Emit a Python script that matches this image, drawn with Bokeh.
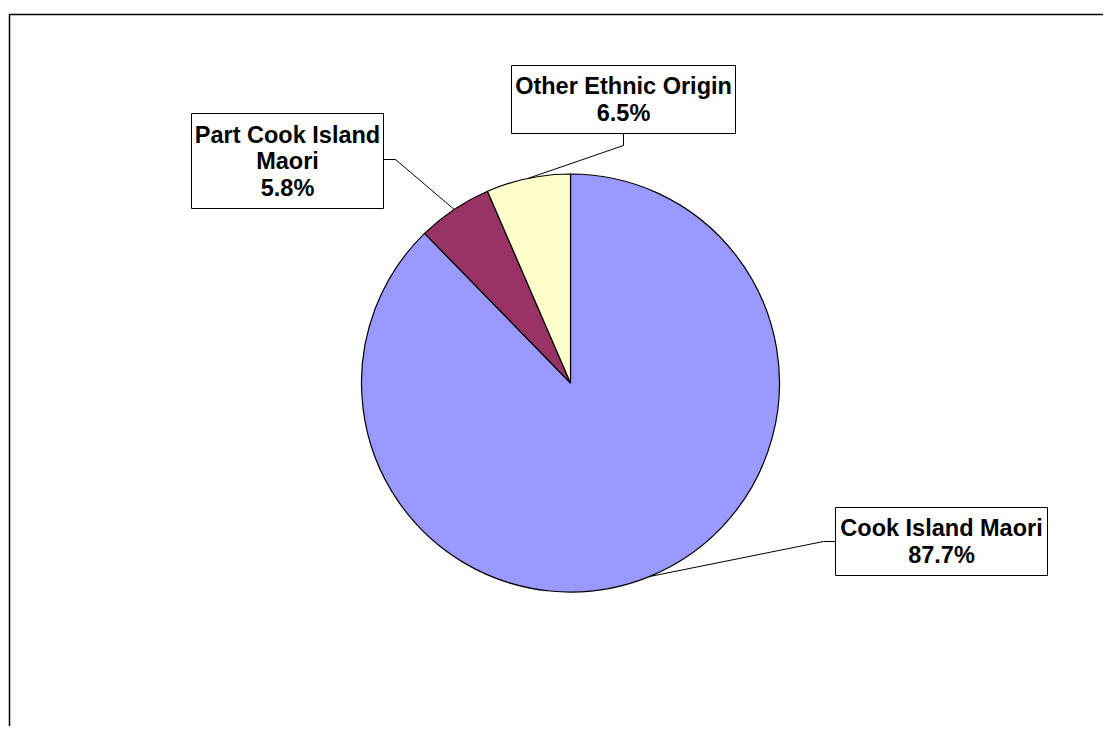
import numpy as np
from bokeh.plotting import figure
from bokeh.models import Range1d, ColumnDataSource
from bokeh.core.properties import value
from bokeh.embed import file_html
from bokeh.resources import INLINE

# ---- data ----
categories = ["Cook Island Maori", "Part Cook Island Maori", "Other Ethnic Origin"]
label_lines = [["Cook Island Maori"], ["Part Cook Island", "Maori"], ["Other Ethnic Origin"]]
percent = [87.7, 5.8, 6.5]
colors = ["#9999FF", "#993366", "#FFFFCC"]

W, H = 1103, 726
def Y(py):
    return H - py

p = figure(width=W, height=H, output_backend="svg", toolbar_location=None,
           x_range=Range1d(0, W), y_range=Range1d(0, H),
           min_border=0, outline_line_color=None)
p.axis.visible = False
p.grid.visible = False
p.background_fill_color = "white"
p.border_fill_color = "white"

# chart area border (extends past the window on right/bottom)
p.quad(left=[9], right=[1300], top=[Y(14)], bottom=[Y(900)], fill_color=None,
       line_color="#000000", line_width=1.5)

# pie
cx, cy, R = 570, Y(382.5), 209
vals = np.array(percent, dtype=float)
frac = vals / vals.sum()
cum = np.concatenate([[0], np.cumsum(frac)])
start = np.pi / 2 - cum[:-1] * 2 * np.pi
end = np.pi / 2 - cum[1:] * 2 * np.pi
mid = (start + end) / 2
src = ColumnDataSource(dict(start=start, end=end, color=colors, cat=categories))
p.wedge(x=cx, y=cy, radius=R, start_angle="start", end_angle="end", direction="clock",
        fill_color="color", line_color="black", line_width=1.2, source=src)

# label boxes (layout) : left, right, top, bottom in page px, elbow points
boxes = [
    dict(l=835, r=1047, t=507, b=575, elbow=[(835, 541), (823, 541)]),
    dict(l=191, r=383, t=113, b=208, elbow=[(383, 159), (395, 159)]),
    dict(l=511, r=735, t=65, b=133, elbow=[(623, 133), (623, 145)]),
]

xs, ys = [], []
for i, bx in enumerate(boxes):
    ex = cx + R * np.cos(mid[i])
    ey = cy + R * np.sin(mid[i])
    px = [pt[0] for pt in bx["elbow"]] + [ex]
    py = [Y(pt[1]) for pt in bx["elbow"]] + [ey]
    xs.append(px)
    ys.append(py)
p.multi_line(xs=xs, ys=ys, line_color="black", line_width=1)

fs = 23.5
pitch = 26.5
for i, bx in enumerate(boxes):
    p.quad(left=[bx["l"]], right=[bx["r"]], top=[Y(bx["t"])], bottom=[Y(bx["b"])],
           fill_color="white", line_color="black", line_width=1)
    lines = label_lines[i] + [f"{percent[i]:.1f}%"]
    n = len(lines)
    ccx = (bx["l"] + bx["r"]) / 2
    ccy = (bx["t"] + bx["b"]) / 2
    for k, ln in enumerate(lines):
        ty = ccy + (k - (n - 1) / 2) * pitch
        p.text(x=[ccx], y=[Y(ty)], text=[ln], text_align="center", text_baseline="middle",
               text_font=value("Liberation Sans"), text_font_style="bold",
               text_font_size=f"{fs}px", text_color="black")

open("out.html", "w").write(file_html(p, INLINE))
